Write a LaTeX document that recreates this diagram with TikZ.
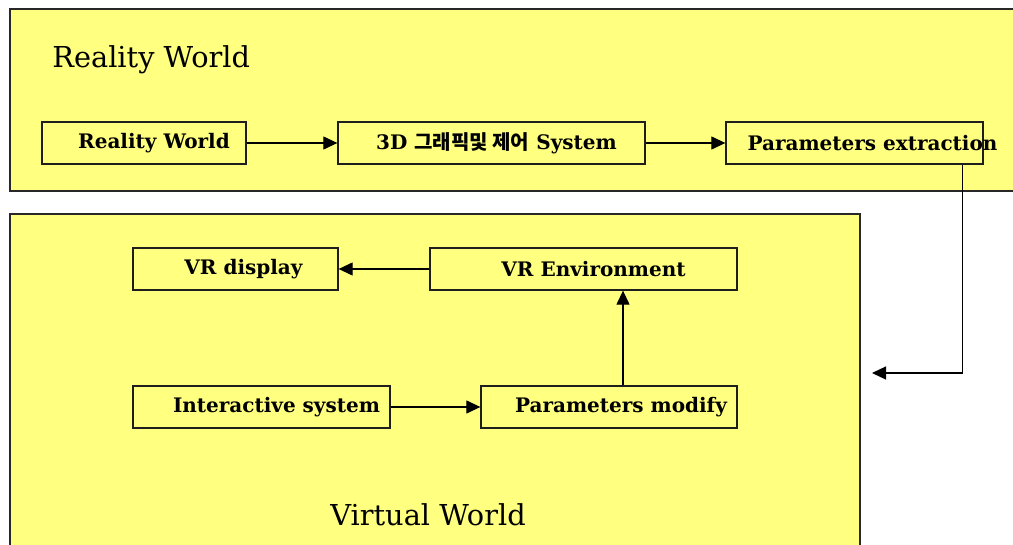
\documentclass[tikz,border=0pt]{standalone}
\usepackage{fontspec}
\setmainfont{DejaVu Serif}
\newfontfamily\krfont{Noto Sans CJK KR}
\usetikzlibrary{arrows.meta}
\definecolor{paleyellow}{RGB}{255,255,128}
\newcommand{\boxtext}[2]{\makebox[0pt]{\hspace*{#1}#2}}

\tikzset{every picture/.style={line width=0.75pt}}
\tikzset{
  worldpanel/.style={draw={rgb, 255:red, 40; green, 40; blue, 40}, fill=paleyellow, line width=1.3},
  blockbox/.style={draw={rgb, 255:red, 30; green, 30; blue, 30}, line width=1.3, minimum height=42, inner sep=0pt, font=\fontsize{20}{24}\selectfont\bfseries},
  titletext/.style={anchor=base west, inner sep=0pt, font=\fontsize{28.8}{33}\selectfont},
  flowarrow/.style={-{Triangle[length=14pt,width=13pt]}, line width=1.2},
}

\begin{document}
\begin{tikzpicture}[x=1pt,y=1pt,yscale=-1,xscale=1]
\useasboundingbox[fill=white] (0,0) rectangle (1013,545);

%Shape: Rectangle (reality panel)
\draw [worldpanel] (10,9) rectangle (1030,191) ;
%Shape: Rectangle (virtual panel)
\draw [worldpanel] (10,214) rectangle (860,560) ;

% Text Node
\node (realtitle) [titletext] at (52,68) {Reality World};
% Text Node
\node (virttitle) [titletext] at (330,525) {Virtual World};

%Blocks of the reality world
\node (rw) [blockbox, minimum width=204] at (144,143) {\boxtext{20pt}{Reality World}};
\node (sys) [blockbox, minimum width=307] at (491.5,143) {\boxtext{10pt}{3D {\krfont 그래픽및 제어} System}};
\node (pext) [blockbox, minimum width=257] at (854.5,143) {\boxtext{36pt}{Parameters extraction}};

%Blocks of the virtual world
\node (vrd) [blockbox, minimum width=205] at (235.5,269) {\boxtext{16pt}{VR display}};
\node (venv) [blockbox, minimum width=307] at (583.5,269) {\boxtext{20pt}{VR Environment}};
\node (isys) [blockbox, minimum width=257] at (261.5,407) {\boxtext{30pt}{Interactive system}};
\node (pmod) [blockbox, minimum width=256] at (609,407) {\boxtext{24pt}{Parameters modify}};

%Free end of the return line
\coordinate (backin) at (872,373);

%Straight Lines
\draw [flowarrow] (rw) -- (sys) ;
\draw [flowarrow] (sys) -- (pext) ;
\draw [flowarrow] ([xshift=-21]pext.south east) |- (backin) ;
\draw [flowarrow] (venv) -- (vrd) ;
\draw [flowarrow] (isys) -- (pmod) ;
\draw [flowarrow] ([xshift=14]pmod.north) -- ([xshift=14]pmod.north |- venv.south) ;

\end{tikzpicture}
\end{document}
